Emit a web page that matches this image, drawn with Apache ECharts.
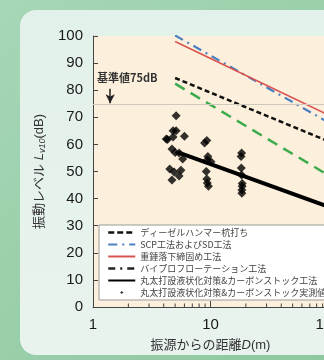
<!DOCTYPE html>
<html><head><meta charset="utf-8">
<script src="https://cdn.jsdelivr.net/npm/echarts@6/dist/echarts.min.js"></script>
<style>html,body{margin:0;padding:0;background:#9ccfac;}#c{width:324px;height:360px;}</style>
</head><body><div id="c"></div>
<script>
// ---- data ----
const seriesNames = ['ディーゼルハンマー杭打ち','SCP工法およびSD工法','重錘落下締固め工法','バイプロフローテーション工法','丸太打設液状化対策&カーボンストック工法','丸太打設液状化対策&カーボンストック実測値'];
const dieselD = [5, 100];   const dieselL = [84.5, 61.2];
const scpD = [5, 100];      const scpL = [100.2, 68.2];
const weightD = [5, 100];   const weightL = [98.0, 70.9];
const vibroD = [5, 100];    const vibroL = [82.4, 48.7];
const logD = [5.3, 100];    const logL = [57.1, 37.1];
const measD = [5.1,4.8,5.1,6.0,4.3,4.8,4.7,5.0,5.4,5.8,4.5,4.9,5.6,4.7,5.4,4.2,
               9.3,8.9,9.4,10.1,9.2,9.3,9.6,9.5,9.4,
               18.4,18.2,18.3,18.4,18.6,18.6,18.5,18.5];
const measL = [70.6,65,65,63,61.8,62.7,58.3,57,56.8,54.6,50.9,49.8,50.5,46.9,48.3,62.0,
               61.4,60.5,54.2,53.6,50,47.2,44.6,55.5,45.8,
               56.8,55.5,51.3,48.7,45.6,44.6,43.2,42];
const minorTickD = [2,3,4,5,6,7,8,9,20,30,40,50,60,70,80,90];
const yTicks = [0,10,20,30,40,50,60,70,80,90,100];
const standardLevel = 75;
const standardLabel = '基準値75dB';

const zip = (a,b)=>a.map((v,i)=>[v,b[i]]);
const chart = echarts.init(document.getElementById('c'), null, {renderer:'canvas'});
const jp = '"Liberation Sans","Noto Sans CJK JP",sans-serif';
const hideSym = {opacity:0};

chart.setOption({
  backgroundColor: 'transparent',
  animation: false,
  graphic: [
    {type:'rect', z:-10, shape:{x:0,y:0,width:324,height:360},
     style:{fill:new echarts.graphic.LinearGradient(0,0,1,1,[{offset:0,color:'#a6d7b6'},{offset:1,color:'#8ec7a0'}])}},
    {type:'rect', z:-9, shape:{x:20,y:10,width:340,height:345,r:16},
     style:{fill:new echarts.graphic.LinearGradient(0,0,0,1,[{offset:0,color:'#e2f1ea'},{offset:1,color:'#e9f3ee'}])}},
    {type:'text', left:97, top:72, z:10,
     style:{text:standardLabel, font:'bold 11px "Noto Sans CJK JP",sans-serif', fill:'#333'}}
  ],
  grid: {left:93, top:36, width:235, height:271, show:true, backgroundColor:'#fcf0dc', borderWidth:0,
         outerBoundsMode:'none', containLabel:false},
  xAxis: {
    type:'log', logBase:10, min:1, max:100,
    name:'{a|振源からの距離}{i|D}{a|(m)}', nameLocation:'middle', nameGap:32,
    nameTextStyle:{rich:{a:{fontSize:13,color:'#333',fontFamily:jp},i:{fontSize:13,color:'#333',fontStyle:'italic',fontFamily:jp}}},
    axisLine:{lineStyle:{color:'#444',width:1}},
    axisTick:{inside:true,length:6,lineStyle:{color:'#444'}},
    axisLabel:{fontSize:15,color:'#1a1a1a',margin:10,fontFamily:'"Liberation Sans",sans-serif'},
    splitLine:{show:false}
  },
  yAxis: {
    type:'value', min:yTicks[0], max:yTicks[yTicks.length-1], interval:10,
    name:'{a|振動レベル }{i|L}{s|v10}{a|(dB)}', nameLocation:'middle', nameGap:24, nameRotate:90,
    nameTextStyle:{rich:{a:{fontSize:13,color:'#333',fontFamily:jp},i:{fontSize:13,color:'#333',fontStyle:'italic',fontFamily:jp},s:{fontSize:9,color:'#333',fontStyle:'italic',fontFamily:jp,padding:[6,0,0,0]}}},
    axisLine:{show:true,lineStyle:{color:'#444',width:1}},
    axisTick:{show:true,inside:true,length:5,lineStyle:{color:'#444'}},
    axisLabel:{fontSize:15,color:'#1a1a1a',margin:10,fontFamily:'"Liberation Sans",sans-serif'},
    splitLine:{show:false}
  },
  legend: {
    orient:'vertical', left:99, top:225, padding:[3,6,3,8], itemGap:3,
    itemWidth:27, itemHeight:10, backgroundColor:'#fff', borderColor:'#999', borderWidth:1,
    textStyle:{fontSize:9,color:'#444',fontFamily:'"Noto Sans CJK JP",sans-serif'},
    data:[
      {name:seriesNames[0], itemStyle:hideSym, lineStyle:{type:[6,3],width:2.5}},
      {name:seriesNames[1], itemStyle:hideSym},
      {name:seriesNames[2], itemStyle:hideSym},
      {name:seriesNames[3], itemStyle:{opacity:0}, lineStyle:{color:'#222',type:[7,5,2,5],width:2.5}},
      {name:seriesNames[4], itemStyle:hideSym},
      {name:seriesNames[5], icon:'path://M0,0 M13.2,5 L15,3.2 L16.8,5 L15,6.8 Z M30,10'}
    ]
  },
  series: [
    {name:seriesNames[0], type:'line', data:zip(dieselD,dieselL), symbol:'none', clip:true,
     lineStyle:{color:'#111',width:2.5,type:[5,3]}, itemStyle:{color:'#111'},
     markLine:{silent:true, symbol:['none','none'], label:{show:false},
       lineStyle:{color:'#cfc8bc',width:1,type:'solid'}, data:[{yAxis:standardLevel}]}},
    {name:seriesNames[1], type:'line', data:zip(scpD,scpL), symbol:'none', clip:true,
     lineStyle:{color:'#4a7fc1',width:2.2,type:[9,5,2,5]}, itemStyle:{color:'#4a7fc1'}},
    {name:seriesNames[2], type:'line', data:zip(weightD,weightL), symbol:'none', clip:true,
     lineStyle:{color:'#d9534f',width:1.6}, itemStyle:{color:'#d9534f'}},
    {name:seriesNames[3], type:'line', data:zip(vibroD,vibroL), symbol:'none', clip:true,
     lineStyle:{color:'#3dab4d',width:2.5,type:[11,7]}, itemStyle:{color:'#3dab4d'}},
    {name:seriesNames[4], type:'line', data:zip(logD,logL), symbol:'none', clip:true,
     lineStyle:{color:'#000',width:4}, itemStyle:{color:'#000'},
     markLine:{silent:true, symbol:['none','arrow'], symbolSize:[7,9], label:{show:false},
       lineStyle:{color:'#222',width:1.5,type:'solid'},
       data:[[{coord:[1.4,80.5]},{coord:[1.4,75.2]}]]}},
    {name:seriesNames[5], type:'scatter', data:zip(measD,measL), symbol:'diamond', symbolSize:9,
     itemStyle:{color:'#000'}},
    {type:'custom', name:'minor', silent:true, data:minorTickD.map(d=>[d]),
     renderItem:(params,api)=>{
       const p = api.coord([api.value(0), 0]);
       return {type:'line', shape:{x1:p[0],y1:p[1],x2:p[0],y2:p[1]-3.5}, style:{stroke:'#444',lineWidth:1}};
     }, clip:false, z:5}
  ]
});
</script></body></html>
